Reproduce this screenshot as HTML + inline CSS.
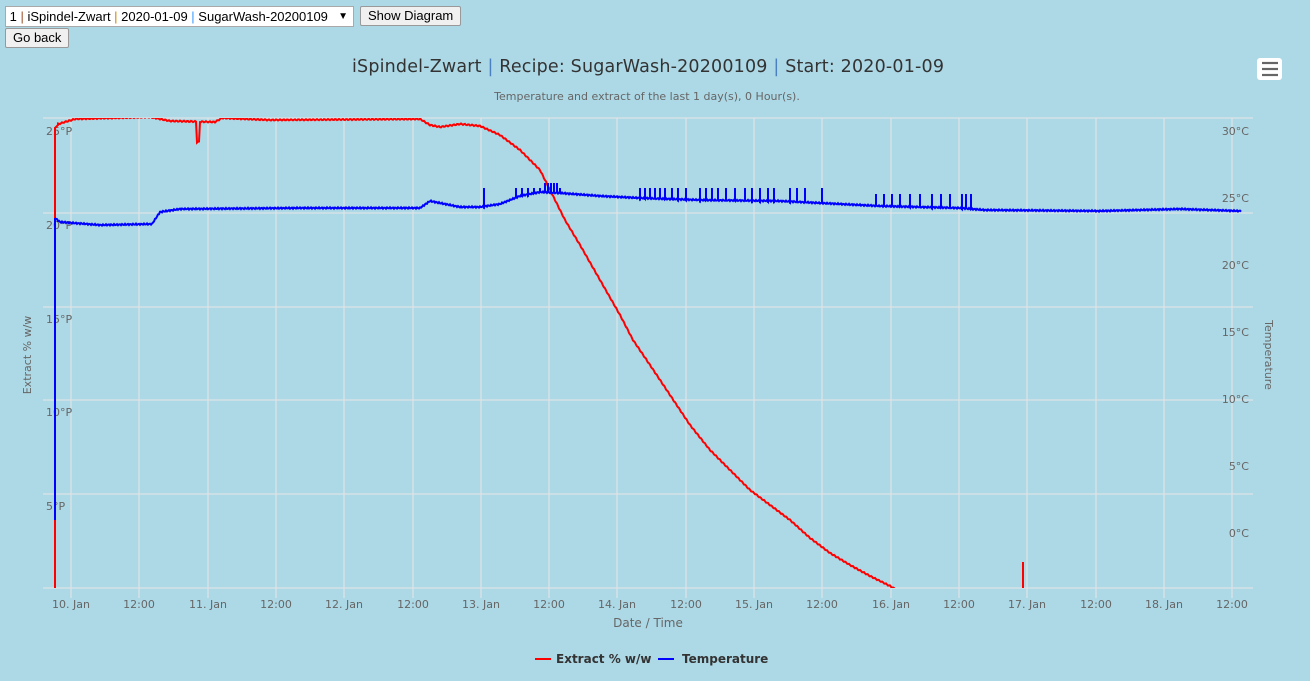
<!DOCTYPE html>
<html><head><meta charset="utf-8"><style>
body{margin:0;background:#add8e6;width:1310px;height:681px;overflow:hidden;font-family:"Liberation Sans",sans-serif;position:relative}
.sel{position:absolute;left:5px;top:6px;width:347px;height:19px;background:#fff;border:1px solid #a9a9a9;font-size:13px;line-height:19px;white-space:nowrap;overflow:hidden}
.btn{position:absolute;background:#f0f0f0;border:1px solid #999;font-size:13px;line-height:18px;padding:0 7px;border-radius:2px}
svg{position:absolute;left:0;top:0}
</style></head><body>
<div class="sel">&nbsp;1 <span style="color:#a0522d">|</span> iSpindel-Zwart <span style="color:#c80">|</span> 2020-01-09 <span style="color:#39f">|</span> SugarWash-20200109 <span style="position:absolute;right:5px;font-size:10px">▼</span></div>
<div class="btn" style="left:360px;top:6px">Show Diagram</div>
<div class="btn" style="left:5px;top:28px">Go back</div>
<svg width="1310" height="681" xmlns="http://www.w3.org/2000/svg" font-family="DejaVu Sans, sans-serif">
<rect x="1257" y="58" width="25" height="22" rx="3" fill="#fff"/>
<g stroke="#666" stroke-width="2.2"><line x1="1262" y1="63" x2="1278" y2="63"/><line x1="1262" y1="69" x2="1278" y2="69"/><line x1="1262" y1="75" x2="1278" y2="75"/></g>
<text x="648" y="72" text-anchor="middle" font-size="17.5" fill="#333" textLength="592">iSpindel-Zwart <tspan fill="#4a7fc0">|</tspan> Recipe: SugarWash-20200109 <tspan fill="#4a7fc0">|</tspan> Start: 2020-01-09</text>
<text x="647" y="100" text-anchor="middle" font-size="11" fill="#666">Temperature and extract of the last 1 day(s), 0 Hour(s).</text>
<g stroke="#e6e6e6" stroke-width="1" id="grid"></g>
<g font-size="11" fill="#666" id="lbl"></g>
<text x="31" y="355" font-size="11" fill="#666" text-anchor="middle" transform="rotate(-90 31 355)">Extract % w/w</text>
<text x="1265" y="355" font-size="11" fill="#666" text-anchor="middle" transform="rotate(90 1265 355)">Temperature</text>
<text x="648" y="627" font-size="12" fill="#666" text-anchor="middle">Date / Time</text>
<line x1="535" y1="659" x2="551" y2="659" stroke="red" stroke-width="2"/>
<text x="556" y="663" font-size="12" font-weight="bold" fill="#333">Extract % w/w</text>
<line x1="658" y1="659" x2="674" y2="659" stroke="blue" stroke-width="2"/>
<text x="682" y="663" font-size="12" font-weight="bold" fill="#333">Temperature</text>
<clipPath id="c"><rect x="43" y="118" width="1210" height="470"/></clipPath>
<g clip-path="url(#c)">
<path id="red" fill="none" stroke="red" stroke-width="2"/>
<path id="blue" fill="none" stroke="blue" stroke-width="2"/>
<line x1="1023" y1="562" x2="1023" y2="588" stroke="red" stroke-width="2"/>
</g>
</svg>
<script>
var g=document.getElementById('grid'),l=document.getElementById('lbl'),s='';
[118,213,307,400,494,588].forEach(function(y){s+='<line x1="43" y1="'+y+'" x2="1253" y2="'+y+'"/>';});
var labs=['10. Jan','12:00','11. Jan','12:00','12. Jan','12:00','13. Jan','12:00','14. Jan','12:00','15. Jan','12:00','16. Jan','12:00','17. Jan','12:00','18. Jan','12:00'];
var t='';
labs.forEach(function(a,i){var x=Math.round(71+i*68.3);s+='<line x1="'+x+'" y1="118" x2="'+x+'" y2="598"/>';t+='<text x="'+x+'" y="608" text-anchor="middle">'+a+'</text>';});
g.innerHTML=s;
[['25°P',135],['20°P',229],['15°P',323],['10°P',416],['5°P',510]].forEach(function(a){t+='<text x="46" y="'+a[1]+'">'+a[0]+'</text>';});
[['30°C',135],['25°C',202],['20°C',269],['15°C',336],['10°C',403],['5°C',470],['0°C',537]].forEach(function(a){t+='<text x="1249" y="'+a[1]+'" text-anchor="end">'+a[0]+'</text>';});
l.innerHTML=t;
function interp(pts,x){for(var i=1;i<pts.length;i++){if(x<=pts[i][0]){var a=pts[i-1],b=pts[i];return a[1]+(b[1]-a[1])*(x-a[0])/(b[0]-a[0]);}}return pts[pts.length-1][1];}
var R=[[55,125],[75,119],[150,117],[170,121],[215,122],[222,118],[270,120],[420,119],[430,125],[440,127],[460,124],[480,126],[500,135],[520,150],[540,170],[555,200],[565,220],[580,245],[600,280],[620,315],[633,340],[650,365],[670,395],[690,425],[710,450],[730,470],[750,490],[770,505],[790,520],[810,538],[830,553],[850,565],[870,576],[890,586],[900,592]];
var d='M55,588 L55,128 L58,125';for(var x=58;x<=900;x++){var y=interp(R,x);if(x>=197&&x<=199)y=142;d+=' L'+x+','+(y+Math.sin(x*1.7)*0.6).toFixed(1);}
document.getElementById('red').setAttribute('d',d);
var B=[[55,218],[60,222],[100,225],[152,224],[160,212],[180,209],[300,208],[420,208],[430,201],[440,203],[460,207],[480,207],[500,204],[520,196],[540,192],[560,193],[600,196],[640,198],[700,200],[780,201],[820,203],[880,206],[960,208],[985,210],[1100,211],[1180,209],[1240,211]];
var sp=[484,516,522,528,534,540,545,548,551,554,557,560,640,645,650,655,660,665,672,678,686,700,706,712,718,726,735,745,752,760,768,774,790,797,805,822,876,884,892,900,910,920,932,941,950,962,966,971];
var d2='M55,520 L55,218';for(var x=55;x<=1241;x++){var y=interp(B,x)+Math.sin(x*2.3)*0.7;d2+=' L'+x+','+y.toFixed(1);if(sp.indexOf(x)>=0){var h=x<870?188:194;if(x>540&&x<560)h=183;d2+=' L'+x+','+h+' L'+x+','+y.toFixed(1);}}
document.getElementById('blue').setAttribute('d',d2);
</script>
</body></html>
